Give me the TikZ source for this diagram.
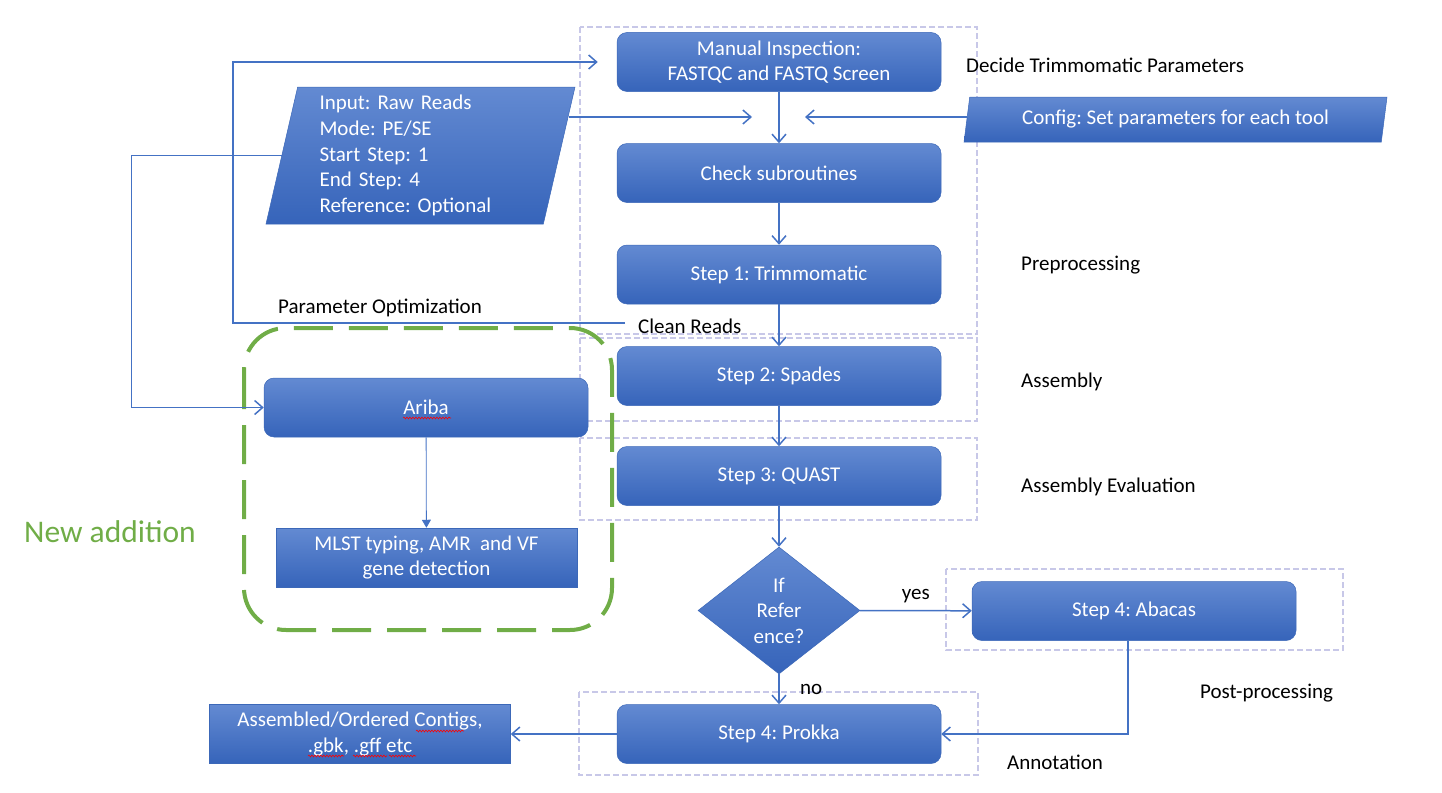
\documentclass[tikz,border=0pt]{standalone}
\usepackage{fontspec}
\setmainfont{Carlito}
\usetikzlibrary{shapes.geometric}
\usetikzlibrary{arrows.meta}
\usetikzlibrary{decorations.pathmorphing}
\frenchspacing

\definecolor{boxtop}{RGB}{99,138,210}
\definecolor{boxbot}{RGB}{54,100,186}
\definecolor{boxedge}{RGB}{60,104,184}
\definecolor{linkblue}{RGB}{68,114,196}
\definecolor{grpline}{RGB}{200,200,232}
\definecolor{newgreen}{RGB}{112,173,71}

\begin{document}
\begin{tikzpicture}[x=1pt,y=-1pt,font=\fontsize{21}{25.6}\selectfont,
    bluefill/.style={top color=boxtop,bottom color=boxbot,draw=boxedge,line width=0.5pt,text=white}]
\useasboundingbox (0,0) rectangle (1442,792);

% dashed groups
\begin{scope}[draw=grpline,line width=1.3pt,dash pattern=on 6pt off 3pt]
    \draw (580,27) rectangle (977,334);
    \draw (580,338) rectangle (977,421);
    \draw (580,438) rectangle (977,520);
    \draw (946,569) rectangle (1343,650);
    \draw (579,692) rectangle (978,775);
\end{scope}
\draw [newgreen,line width=4pt,dash pattern=on 39pt off 16pt,rounded corners=42pt] (244,328) rectangle (612,630);

\begin{scope}[every node/.style={bluefill,rectangle,rounded corners=10pt,minimum width=324pt,minimum height=59pt,align=center}]
    \node (ManualInsp) at (779,62) {Manual Inspection:\\FASTQC and FASTQ Screen};
    \node (CheckSub) at (779,173) {Check subroutines};
    \node (Trimmomatic) at (779,274.5) {Step 1: Trimmomatic};
    \node (Spades) at (779,376) {Step 2: Spades};
    \node (Quast) at (779,476) {Step 3: QUAST};
    \node (Abacas) at (1134,611) {Step 4: Abacas};
    \node (Prokka) at (779,734) {Step 4: Prokka};
    \node (Ariba) at (426,407.5) {Ariba};
    \end{scope}

\begin{scope}[every node/.style={bluefill,rectangle,minimum width=301pt,minimum height=59pt,align=center}]
    \node (Contigs) at (360,734) {Assembled/Ordered Contigs,\\.gbk, .gff etc};
    \node (Mlst) at (426.5,557.5) {MLST typing, AMR\ \ and VF\\gene detection};
    \end{scope}

\begin{scope}[every node/.style={bluefill,trapezium,trapezium stretches body}]
    \node (Input) [trapezium left angle=76,trapezium right angle=104,minimum width=309pt,minimum height=137pt,text width=202pt,align=left] at (420.5,155.5)
        {Input: Raw Reads\\Mode: PE/SE\\Start Step: 1\\End Step: 4\\Reference: Optional};
    \node (Config) [trapezium left angle=77,trapezium right angle=103,minimum width=423pt,minimum height=45pt] at (1175.5,119.5)
        {Config: Set parameters for each tool};
    \end{scope}

\node (IfRef) [bluefill,diamond,aspect=1.27,inner sep=0pt,minimum width=162pt,minimum height=127pt,align=center] at (779,610.5) {If\\Refer\\ence?};

% side labels
\begin{scope}[every node/.style={anchor=base west,inner sep=0pt}]
    \node (DecideLbl) at (966,72) {Decide Trimmomatic Parameters};
    \node (PreLbl) at (1021,270) {Preprocessing};
    \node (AsmLbl) at (1021,387) {Assembly};
    \node (EvalLbl) at (1021,492) {Assembly Evaluation};
    \node (PostLbl) at (1200,698) {Post-processing};
    \node (AnnotLbl) at (1007,769) {Annotation};
    \node (ParamLbl) at (278,313) {Parameter Optimization};
    \node (CleanLbl) at (638,333) {Clean Reads};
    \node (NewLbl) [text=newgreen,font=\fontsize{31.5}{36}\selectfont] at (24,542) {New addition};
    \end{scope}

\coordinate (Merge) at (779,117);
\coordinate (LoopStart) at (625,323);

\begin{scope}[>={Straight Barb[length=8pt,width=14pt]},
              every edge/.style={draw=linkblue,line width=1.5pt}]
    \path [->] (ManualInsp) edge (CheckSub);
    \path [->] (CheckSub) edge (Trimmomatic);
    \path [->] (Trimmomatic) edge (Spades);
    \path [->] (Spades) edge (Quast);
    \path [->] (Quast) edge (IfRef);
    \path [->] (IfRef) edge node (YesLbl) [above=4pt] {yes} (Abacas);
    \path [->] (IfRef) edge node (NoLbl) [pos=0.5,right=17pt] {no} (Prokka);
    \path [->] (Prokka) edge (Contigs);
    \path [->,shorten <=10pt] (Input.east |- Merge) edge ([xshift=-27pt]Merge);
    \path [->] (Config.west |- Merge) edge ([xshift=26pt]Merge);
    \draw [->,linkblue,line width=1.5pt] ([xshift=-6pt]Abacas.south) |- (Prokka.east);
    \draw [->,linkblue,line width=1.5pt] (Input.west) -- ++(-150,0) |- (Ariba.west);
    \draw [->,linkblue,line width=1.5pt,shorten >=19pt] (LoopStart) -- ++(-392,0) |- (ManualInsp.west);
    \draw [-{Triangle[length=8pt,width=9pt]},linkblue,line width=0.8pt] (Ariba) -- (Mlst);
    \end{scope}

% spell check marks
\begin{scope}[red,line width=0.6pt,decorate,decoration={snake,amplitude=0.9pt,segment length=3pt}]
    \draw [decorate] (403,418) -- (451,418);
    \draw [decorate] (416,731) -- (464,731);
    \draw [decorate] (308,756) -- (344,756);
    \draw [decorate] (353,756) -- (387,756);
    \draw [decorate] (389,756) -- (416,756);
    \end{scope}

\end{tikzpicture}
\end{document}
